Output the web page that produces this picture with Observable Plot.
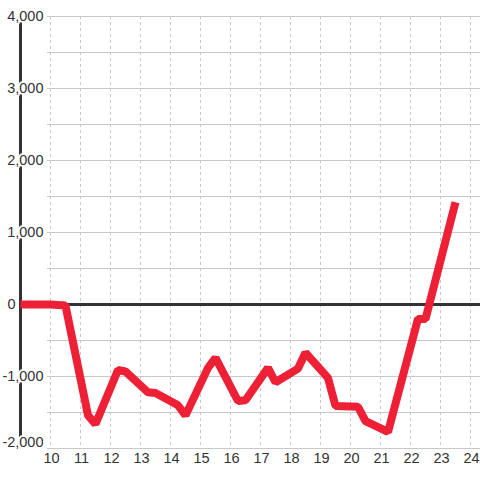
<!DOCTYPE html>
<html>
<head>
<meta charset="utf-8">
<script src="https://cdn.jsdelivr.net/npm/d3@7"></script>
<script src="https://cdn.jsdelivr.net/npm/@observablehq/plot@0.6"></script>
<style>
  html, body { margin: 0; padding: 0; background: #fff; }
  svg { display: block; font-family: "Liberation Sans", Arial, sans-serif; }
</style>
</head>
<body>
<div id="chart"></div>
<script>
const xs = [9, 10, 10.5, 11.25, 11.5, 12.25, 12.5, 13.25, 13.5, 14.25, 14.5, 15.25, 15.5, 16.25, 16.5, 17.25, 17.5, 18.25, 18.5, 19.25, 19.5, 20.25, 20.5, 21.25, 22.25, 22.5, 23.5];
const values = [0, 0, -15, -1540, -1660, -910, -930, -1220, -1230, -1400, -1540, -880, -740, -1340, -1330, -880, -1080, -890, -670, -1020, -1410, -1420, -1620, -1770, -200, -200, 1420];
const xTicks = [10, 11, 12, 13, 14, 15, 16, 17, 18, 19, 20, 21, 22, 23, 24];
const yGrid = [-2000, -1500, -1000, -500, 0, 500, 1000, 1500, 2000, 2500, 3000, 3500, 4000];
const yLabels = [-2000, -1000, 0, 1000, 2000, 3000, 4000];

const data = xs.map((x, i) => ({x, y: values[i]}));
const fmt = d3.format(",");
const ink = "#333";
const grid = "#c8c8c8";

const chart = Plot.plot({
  width: 480,
  height: 480,
  marginLeft: 20,
  marginRight: 0,
  marginTop: 16,
  marginBottom: 32,
  x: {domain: [9, 24 + 1/3], axis: null},
  y: {domain: [-2000, 4000], axis: null},
  style: {fontFamily: '"Liberation Sans", Arial, sans-serif', background: "#fff"},
  marks: [
    Plot.ruleY(yGrid, {stroke: grid, strokeWidth: 1, insetLeft: 27}),
    Plot.ruleX(xTicks, {stroke: grid, strokeWidth: 1, strokeDasharray: "3,3"}),
    Plot.ruleY([0], {stroke: ink, strokeWidth: 3}),
    Plot.ruleX([9], {stroke: ink, strokeWidth: 3}),
    Plot.text(yLabels.filter(d => d !== 0 && d !== -2000), {
      y: d => d, text: d => fmt(d).replace("−", "-"), frameAnchor: "left", dx: 23,
      textAnchor: "end", fill: ink, stroke: "white", strokeWidth: 4, fontSize: 14.5
    }),
    Plot.text([-2000], {
      y: d => d, text: d => fmt(d).replace("−", "-"), frameAnchor: "left", dx: 23, dy: -6,
      textAnchor: "end", fill: ink, stroke: "white", strokeWidth: 4, fontSize: 14.5
    }),
    Plot.text([0], {
      y: d => d, text: d => fmt(d), frameAnchor: "left", dx: -13,
      textAnchor: "start", fill: ink, stroke: "white", strokeWidth: 4, fontSize: 14.5
    }),
    Plot.text(xTicks, {
      x: d => d, text: d => String(d), frameAnchor: "bottom", dy: 14, dx: 1,
      fill: ink, fontSize: 14.5
    }),
    Plot.line(data, {x: "x", y: "y", stroke: "#ee2036", strokeWidth: 8,
      strokeLinejoin: "miter", strokeLinecap: "butt"})
  ]
});
document.getElementById("chart").appendChild(chart);
</script>
</body>
</html>
